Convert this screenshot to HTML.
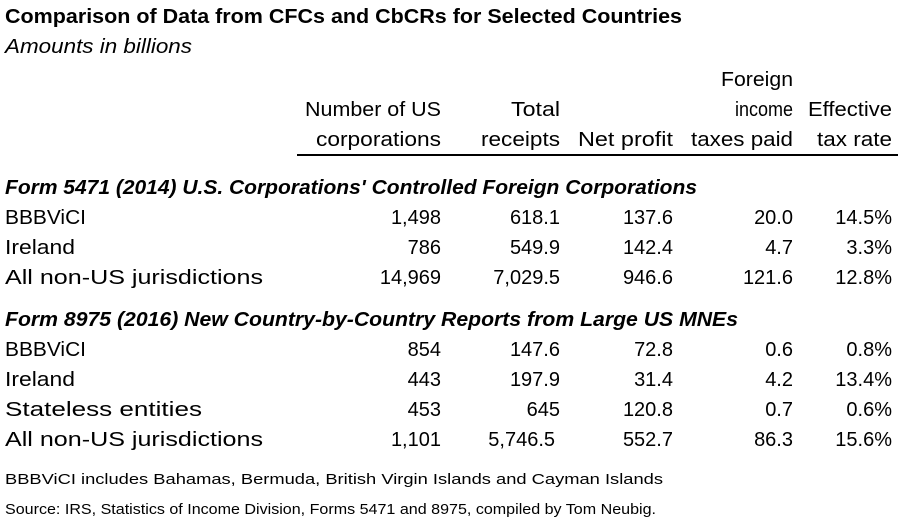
<!DOCTYPE html>
<html><head><meta charset="utf-8"><style>
html,body{margin:0;padding:0;background:#fff;width:900px;height:526px;overflow:hidden}
svg{display:block;font-family:"Liberation Sans",Arial,sans-serif}
</style></head><body>
<svg id="t" width="900" height="526" viewBox="0 0 900 526">
<text x="5" y="23" font-size="20" font-weight="bold" textLength="677" lengthAdjust="spacingAndGlyphs">Comparison of Data from CFCs and CbCRs for Selected Countries</text>
<text x="5" y="53" font-size="20" font-style="italic" textLength="187" lengthAdjust="spacingAndGlyphs">Amounts in billions</text>
<g font-size="20" text-anchor="end">
<text x="793" y="86" textLength="72" lengthAdjust="spacingAndGlyphs">Foreign</text>
<text x="441" y="116" textLength="136" lengthAdjust="spacingAndGlyphs">Number of US</text>
<text x="560" y="116" textLength="49" lengthAdjust="spacingAndGlyphs">Total</text>
<text x="793" y="116" textLength="58" lengthAdjust="spacingAndGlyphs">income</text>
<text x="892" y="116" textLength="84" lengthAdjust="spacingAndGlyphs">Effective</text>
<text x="441" y="146" textLength="125" lengthAdjust="spacingAndGlyphs">corporations</text>
<text x="560" y="146" textLength="79" lengthAdjust="spacingAndGlyphs">receipts</text>
<text x="673" y="146" textLength="95" lengthAdjust="spacingAndGlyphs">Net profit</text>
<text x="793" y="146" textLength="102" lengthAdjust="spacingAndGlyphs">taxes paid</text>
<text x="892" y="146" textLength="75" lengthAdjust="spacingAndGlyphs">tax rate</text>
</g>
<line x1="297" y1="155" x2="898" y2="155" stroke="#000" stroke-width="2"/>
<text x="5" y="194" font-size="20" font-weight="bold" font-style="italic" textLength="692" lengthAdjust="spacingAndGlyphs">Form 5471 (2014) U.S. Corporations' Controlled Foreign Corporations</text>
<text x="5" y="326" font-size="20" font-weight="bold" font-style="italic" textLength="733" lengthAdjust="spacingAndGlyphs">Form 8975 (2016) New Country-by-Country Reports from Large US MNEs</text>
<g id="rows"></g>
<text x="5" y="484" font-size="14.5" textLength="658" lengthAdjust="spacingAndGlyphs">BBBViCI includes Bahamas, Bermuda, British Virgin Islands and Cayman Islands</text>
<text x="5" y="514" font-size="14.5" textLength="651" lengthAdjust="spacingAndGlyphs">Source: IRS, Statistics of Income Division, Forms 5471 and 8975, compiled by Tom Neubig.</text>
</svg>
<script>
const labels = ["BBBViCI","Ireland","All non-US jurisdictions","BBBViCI","Ireland","Stateless entities","All non-US jurisdictions"];
const corporations = ["1,498","786","14,969","854","443","453","1,101"];
const receipts = ["618.1","549.9","7,029.5","147.6","197.9","645","5,746.5"];
const netProfit = ["137.6","142.4","946.6","72.8","31.4","120.8","552.7"];
const taxesPaid = ["20.0","4.7","121.6","0.6","4.2","0.7","86.3"];
const taxRate = ["14.5%","3.3%","12.8%","0.8%","13.4%","0.6%","15.6%"];
const labelW = {"BBBViCI":81,"Ireland":70,"All non-US jurisdictions":258,"Stateless entities":197};
const NS="http://www.w3.org/2000/svg";
const g=document.getElementById('rows');
function rowY(i){return i<3?224+i*30:356+(i-3)*30;}
function txt(x,y,s,anchor,name){
  const t=document.createElementNS(NS,'text');
  t.setAttribute('x',x);t.setAttribute('y',y);t.setAttribute('font-size','20');
  if(anchor)t.setAttribute('text-anchor',anchor);
  t.textContent=s;
  
  
  g.appendChild(t);return t;
}
labels.forEach((l,i)=>{
  const y=rowY(i);
  const t=txt(5,y,l,null,'row-label');
  if(labelW[l]){t.setAttribute('textLength',labelW[l]);t.setAttribute('lengthAdjust','spacingAndGlyphs');}
  txt(441,y,corporations[i],'end','corporations-value');
  txt(receipts[i]==="5,746.5"?555:560,y,receipts[i],'end','receipts-value');
  txt(673,y,netProfit[i],'end','net-profit-value');
  txt(793,y,taxesPaid[i],'end','taxes-paid-value');
  txt(892,y,taxRate[i],'end','tax-rate-value');
});
</script>
</body></html>
